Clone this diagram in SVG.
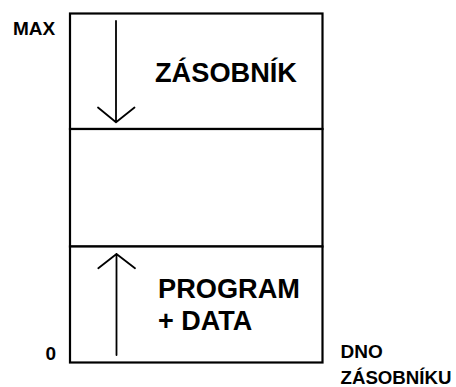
<svg xmlns="http://www.w3.org/2000/svg" width="456" height="387" viewBox="0 0 456 387">
<style>
.box{fill:#fff;stroke:#000;stroke-width:2.2}
.arr{fill:none;stroke:#000;stroke-width:1.8;stroke-linecap:round;stroke-linejoin:round}
text{font-family:"Liberation Sans",Arial,sans-serif;font-weight:bold;fill:#000}
.big{font-size:27px}
.sm{font-size:19px}
</style>
<rect width="456" height="387" fill="#fff"/>
<g id="stack">
<rect class="box" x="70" y="13.5" width="252.5" height="115.5"/>
<text class="big" x="155" y="82" textLength="142" lengthAdjust="spacingAndGlyphs">ZÁSOBNÍK</text>
</g>
<g id="free">
<rect class="box" x="70" y="129" width="252.5" height="117.5"/>
</g>
<g id="program">
<rect class="box" x="70" y="246.5" width="252.5" height="116"/>
<text class="big" x="158" y="298" textLength="142" lengthAdjust="spacingAndGlyphs">PROGRAM</text>
<text class="big" x="158" y="330">+ DATA</text>
</g>
<g id="connectors">
<path class="arr" d="M116 21V122M98 107.5L116 122.3L134.5 107.5"/>
<path class="arr" d="M116.5 355V254M98.3 268.3L116.5 254L135 268.3"/>
</g>
<g id="labels">
<text class="sm" x="13" y="34.5">MAX</text>
<text class="sm" x="45.5" y="359.5">0</text>
<text class="sm" x="340.5" y="358">DNO</text>
<text class="sm" x="340.5" y="383.5" textLength="111" lengthAdjust="spacingAndGlyphs">ZÁSOBNÍKU</text>
</g>
</svg>
